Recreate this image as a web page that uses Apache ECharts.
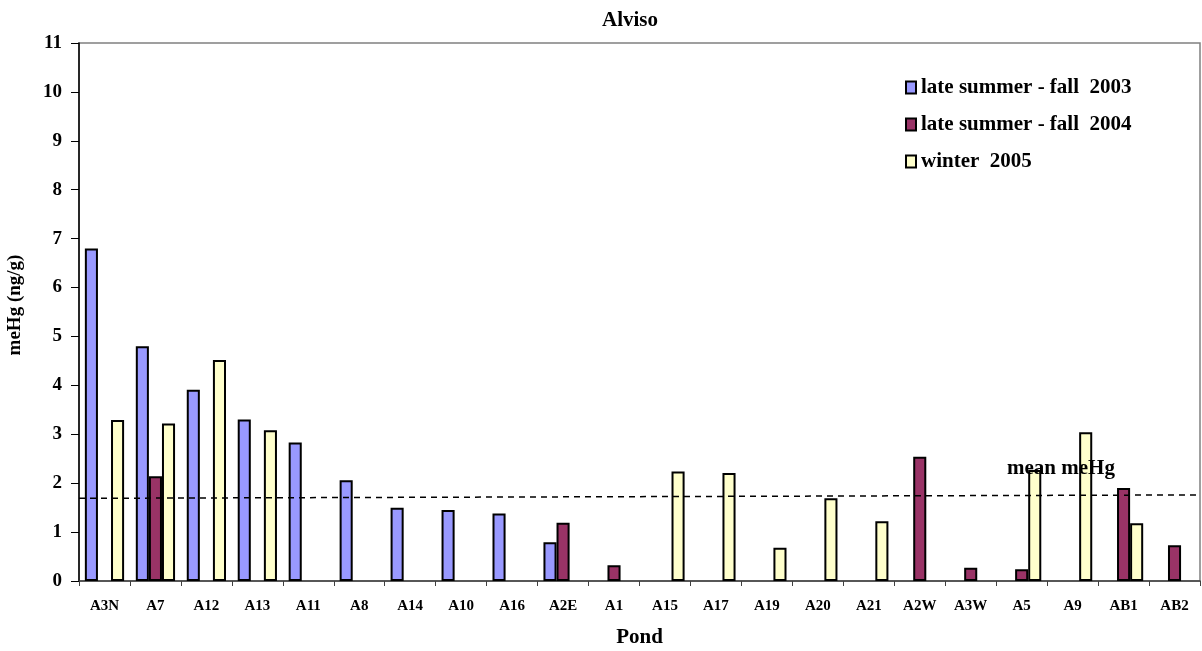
<!DOCTYPE html>
<html>
<head>
<meta charset="utf-8">
<script src="https://cdn.jsdelivr.net/npm/echarts@6/dist/echarts.min.js"></script>
<style>html,body{margin:0;padding:0;background:#fff}#c{width:1202px;height:651px}</style>
</head>
<body>
<div id="c"></div>
<script>
const ponds = ['A3N','A7','A12','A13','A11','A8','A14','A10','A16','A2E','A1','A15','A17','A19','A20','A21','A2W','A3W','A5','A9','AB1','AB2'];
const fall2003 = [6.80,4.80,3.91,3.30,2.83,2.06,1.50,1.45,1.38,0.79,null,null,null,null,null,null,null,null,null,null,null,null];
const fall2004 = [null,2.14,null,null,null,null,null,null,null,1.19,0.32,null,null,null,null,null,2.54,0.27,0.24,null,1.90,0.73];
const winter2005 = [3.29,3.22,4.52,3.08,null,null,null,null,null,null,null,2.24,2.21,0.68,1.69,1.22,null,null,2.27,3.04,1.18,null];
const meanLine = [[0,1.69],[1,1.76]];
const yTicks = [0,1,2,3,4,5,6,7,8,9,10,11];

const font = '"Liberation Serif","Times New Roman",serif';
const chart = echarts.init(document.getElementById('c'));
const barStyle = c => ({color:c, borderColor:'#000', borderWidth:2});
chart.setOption({
  animation:false,
  backgroundColor:'#fff',
  textStyle:{fontFamily:font},
  title:{text:'Alviso', left:597, top:5, textStyle:{fontFamily:font, fontSize:21, fontWeight:'bold', color:'#000'}},
  grid:{left:79, right:2, top:43, bottom:70, containLabel:false, outerBoundsMode:'none',
    show:true, borderColor:'#808080', borderWidth:1.5, backgroundColor:'#fff'},
  legend:{orient:'vertical', left:900, top:72, itemWidth:10, itemHeight:12, itemGap:16, icon:'rect',
    textStyle:{fontFamily:font, fontSize:21, fontWeight:'bold', color:'#000', lineHeight:21},
    data:['late summer - fall  2003','late summer - fall  2004','winter  2005']},
  xAxis:[{type:'category', data:ponds,
    name:'Pond', nameLocation:'middle', nameGap:46,
    nameTextStyle:{fontFamily:font, fontSize:21, fontWeight:'bold', color:'#000'},
    axisLine:{lineStyle:{color:'#404040', width:1.5}},
    axisTick:{show:true, length:5, lineStyle:{color:'#404040'}},
    axisLabel:{fontFamily:font, fontSize:15, fontWeight:'bold', color:'#000', margin:18, interval:0}},
   {type:'value', min:0, max:1, show:false}],
  yAxis:{type:'value', min:0, max:11, interval:1,
    name:'meHg (ng/g)', nameLocation:'middle', nameGap:54, nameRotate:90,
    nameTextStyle:{fontFamily:font, fontSize:19, fontWeight:'bold', color:'#000', padding:[0,0,0,14]},
    axisLine:{show:true, lineStyle:{color:'#000', width:1.5}},
    axisTick:{show:true, length:8, lineStyle:{color:'#000'}},
    splitLine:{show:false},
    axisLabel:{fontFamily:font, fontSize:19, fontWeight:'bold', color:'#000', margin:17,
      formatter:v => yTicks.includes(v) ? String(v) : ''}},
  series:[
    {name:'late summer - fall  2003', type:'bar', data:fall2003, barGap:'0%', barCategoryGap:'23%', itemStyle:barStyle('#9999FF')},
    {name:'late summer - fall  2004', type:'bar', data:fall2004, barGap:'0%', barCategoryGap:'23%', itemStyle:barStyle('#993366')},
    {name:'winter  2005', type:'bar', data:winter2005, barGap:'0%', barCategoryGap:'23%', itemStyle:barStyle('#FFFFCC')},
    {name:'mean', type:'line', xAxisIndex:1, data:meanLine, symbol:'none', silent:true, z:5,
      lineStyle:{color:'#000', width:1.5, type:[6,5]}}
  ],
  graphic:[{type:'text', left:1007, top:458, style:{text:'mean meHg', font:'bold 21px ' + font, fill:'#000'}, z:10}]
});
</script>
</body>
</html>
